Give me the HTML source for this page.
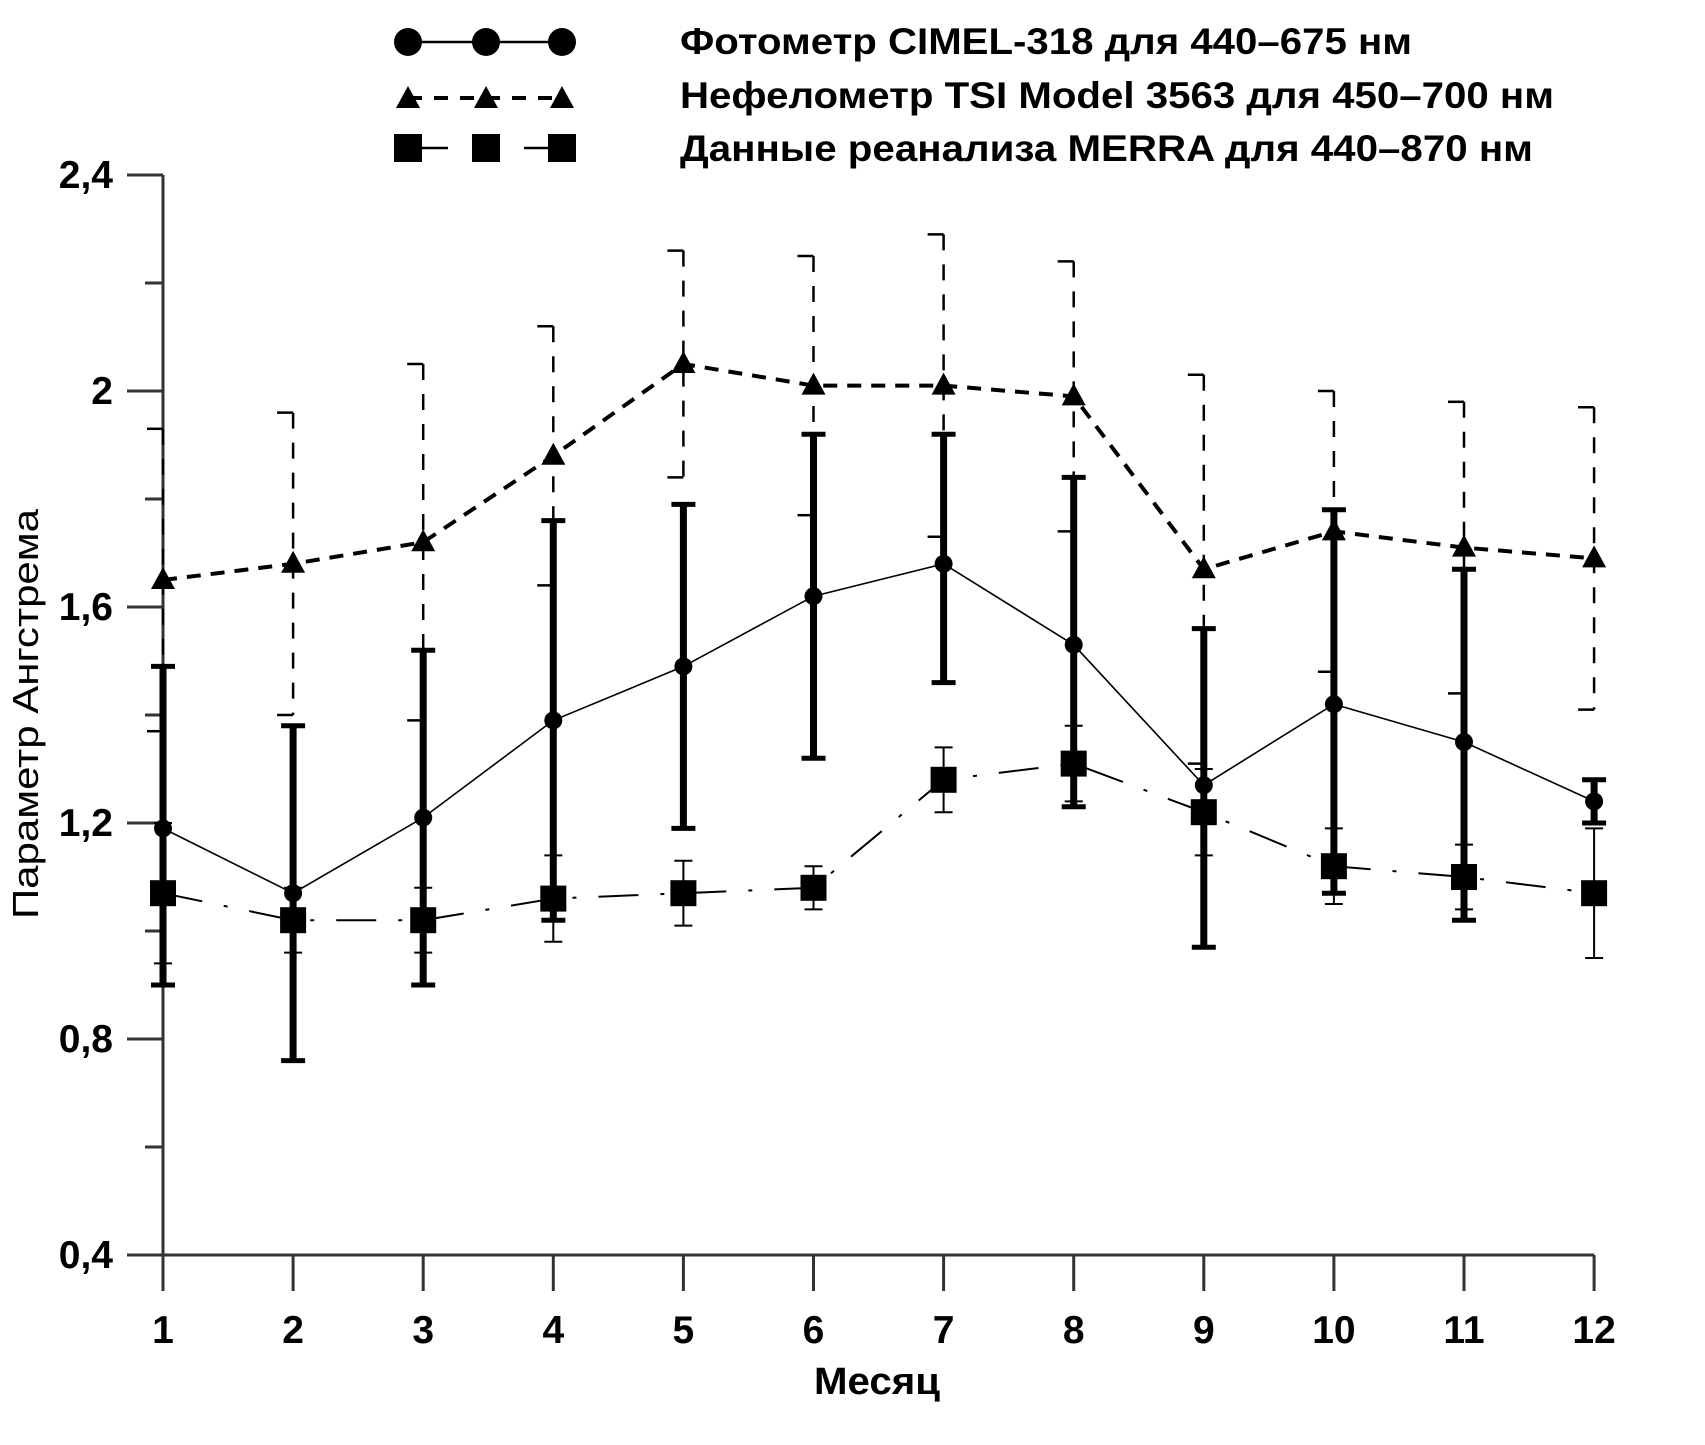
<!DOCTYPE html>
<html><head><meta charset="utf-8"><style>
html,body{margin:0;padding:0;background:#fff}
svg{display:block}
text{font-family:"Liberation Sans",sans-serif;fill:#000}
</style></head><body>
<svg id="chart" width="1705" height="1445" viewBox="0 0 1705 1445">
<g id="legend">
 <g>
  <line x1="408" y1="42" x2="562" y2="42" stroke="#000" stroke-width="2.5"/>
  <circle cx="408" cy="42" r="14"/><circle cx="486" cy="42" r="14"/><circle cx="562" cy="42" r="14"/>
  <text x="680" y="54" font-size="37" font-weight="bold" textLength="732" lengthAdjust="spacingAndGlyphs">Фотометр CIMEL-318 для 440–675 нм</text>
 </g>
 <g>
  <line x1="408" y1="98" x2="562" y2="98" stroke="#000" stroke-width="4" stroke-dasharray="14,12"/>
  <polygon points="396,108 420,108 408,86"/><polygon points="474,108 498,108 486,86"/><polygon points="550,108 574,108 562,86"/>
  <text x="680" y="108" font-size="37" font-weight="bold" textLength="874" lengthAdjust="spacingAndGlyphs">Нефелометр TSI Model 3563 для 450–700 нм</text>
 </g>
 <g>
  <line x1="420" y1="148" x2="448" y2="148" stroke="#000" stroke-width="2.5"/>
  <line x1="524" y1="148" x2="550" y2="148" stroke="#000" stroke-width="2.5"/>
  <rect x="394" y="134" width="28" height="28"/><rect x="472" y="134" width="28" height="28"/><rect x="548" y="134" width="28" height="28"/>
  <text x="680" y="161" font-size="37" font-weight="bold" textLength="853" lengthAdjust="spacingAndGlyphs">Данные реанализа MERRA для 440–870 нм</text>
 </g>
</g>
<g id="axes"></g>
<g id="marks"></g>
<text x="877" y="1394" font-size="38" font-weight="bold" text-anchor="middle" textLength="126" lengthAdjust="spacingAndGlyphs">Месяц</text>
<text transform="translate(38,714) rotate(-90)" font-size="36" text-anchor="middle" fill="#222" textLength="410" lengthAdjust="spacingAndGlyphs">Параметр Ангстрема</text>
</svg>
<script>
const months=[1,2,3,4,5,6,7,8,9,10,11,12];
const photoMean=[1.19,1.07,1.21,1.39,1.49,1.62,1.68,1.53,1.27,1.42,1.35,1.24];
const photoLow=[0.90,0.76,0.90,1.02,1.19,1.32,1.46,1.23,0.97,1.07,1.02,1.20];
const photoHigh=[1.49,1.38,1.52,1.76,1.79,1.92,1.92,1.84,1.56,1.78,1.67,1.28];
const nephMean=[1.65,1.68,1.72,1.88,2.05,2.01,2.01,1.99,1.67,1.74,1.71,1.69];
const nephHigh=[1.93,1.96,2.05,2.12,2.26,2.25,2.29,2.24,2.03,2.00,1.98,1.97];
const merraMean=[1.07,1.02,1.02,1.06,1.07,1.08,1.28,1.31,1.22,1.12,1.10,1.07];
const merraErr=[0.13,0.06,0.06,0.08,0.06,0.04,0.06,0.07,0.08,0.07,0.06,0.12];
const yTicks=[0.4,0.8,1.2,1.6,2.0,2.4];
const yTickLabels=["0,4","0,8","1,2","1,6","2","2,4"];
const yMinor=[0.6,1.0,1.4,1.8,2.2];

const NS="http://www.w3.org/2000/svg";
const X=m=>163+(m-1)*130.1;
const Y=v=>1255-(v-0.4)*540;
function mk(parent,tag,attrs){const e=document.createElementNS(NS,tag);for(const k in attrs)e.setAttribute(k,attrs[k]);parent.appendChild(e);return e;}
const axes=document.getElementById('axes'),marks=document.getElementById('marks');

let e=mk(axes,'line',{x1:X(1),y1:Y(2.4),x2:X(1),y2:Y(0.4),stroke:'#333','stroke-width':3});


e=mk(axes,'line',{x1:X(1)-32,y1:Y(0.4),x2:X(12),y2:Y(0.4),stroke:'#333','stroke-width':3});


yTicks.forEach((v,i)=>{
 mk(axes,'line',{x1:X(1)-36,y1:Y(v),x2:X(1),y2:Y(v),stroke:'#333','stroke-width':3});
 const t=mk(axes,'text',{x:X(1)-50,y:Y(v)+13,'font-size':39,'font-weight':'bold','text-anchor':'end'});
 t.textContent=yTickLabels[i];
 
 
});
yMinor.forEach(v=>mk(axes,'line',{x1:X(1)-18,y1:Y(v),x2:X(1),y2:Y(v),stroke:'#333','stroke-width':3}));
months.forEach(m=>{
 mk(axes,'line',{x1:X(m),y1:Y(0.4),x2:X(m),y2:Y(0.4)+36,stroke:'#333','stroke-width':3});
 const t=mk(axes,'text',{x:X(m),y:Y(0.4)+88,'font-size':39,'font-weight':'bold','text-anchor':'middle'});
 t.textContent=m;
 
 
});

months.forEach((m,i)=>{
 const hi=nephHigh[i],lo=2*nephMean[i]-hi,x=X(m);
 mk(marks,'line',{x1:x,y1:Y(hi),x2:x,y2:Y(lo),stroke:'#000','stroke-width':2.5,'stroke-dasharray':'16,14'});
 mk(marks,'line',{x1:x-16,y1:Y(hi),x2:x,y2:Y(hi),stroke:'#000','stroke-width':2.5});
 mk(marks,'line',{x1:x-16,y1:Y(lo),x2:x,y2:Y(lo),stroke:'#000','stroke-width':2.5});
});
months.forEach((m,i)=>{
 const x=X(m),hi=merraMean[i]+merraErr[i],lo=merraMean[i]-merraErr[i];
 mk(marks,'line',{x1:x,y1:Y(hi),x2:x,y2:Y(lo),stroke:'#000','stroke-width':2});
 mk(marks,'line',{x1:x-9,y1:Y(hi),x2:x+9,y2:Y(hi),stroke:'#000','stroke-width':2});
 mk(marks,'line',{x1:x-9,y1:Y(lo),x2:x+9,y2:Y(lo),stroke:'#000','stroke-width':2});
});
months.forEach((m,i)=>{
 const x=X(m);
 const g=mk(marks,'g',{});
 
 
 mk(g,'line',{x1:x,y1:Y(photoHigh[i]),x2:x,y2:Y(photoLow[i]),stroke:'#000','stroke-width':7});
 mk(g,'line',{x1:x-12,y1:Y(photoHigh[i]),x2:x+12,y2:Y(photoHigh[i]),stroke:'#000','stroke-width':5});
 mk(g,'line',{x1:x-12,y1:Y(photoLow[i]),x2:x+12,y2:Y(photoLow[i]),stroke:'#000','stroke-width':5});
});
const pts=a=>months.map((m,i)=>X(m)+','+Y(a[i])).join(' ');
e=mk(marks,'polyline',{points:pts(nephMean),fill:'none',stroke:'#000','stroke-width':4,'stroke-dasharray':'14,10'});


e=mk(marks,'polyline',{points:pts(merraMean),fill:'none',stroke:'#000','stroke-width':2,'stroke-dasharray':'40,22,4,22'});


e=mk(marks,'polyline',{points:pts(photoMean),fill:'none',stroke:'#000','stroke-width':1.6});


months.forEach((m,i)=>{
 const x=X(m);
 let t=mk(marks,'polygon',{points:`${x-12},${Y(nephMean[i])+9} ${x+12},${Y(nephMean[i])+9} ${x},${Y(nephMean[i])-13}`});
 
 
 let s=mk(marks,'rect',{x:x-13,y:Y(merraMean[i])-13,width:26,height:26});
 
 
 let c=mk(marks,'circle',{cx:x,cy:Y(photoMean[i]),r:9});
 
 
});
</script>
</body></html>
